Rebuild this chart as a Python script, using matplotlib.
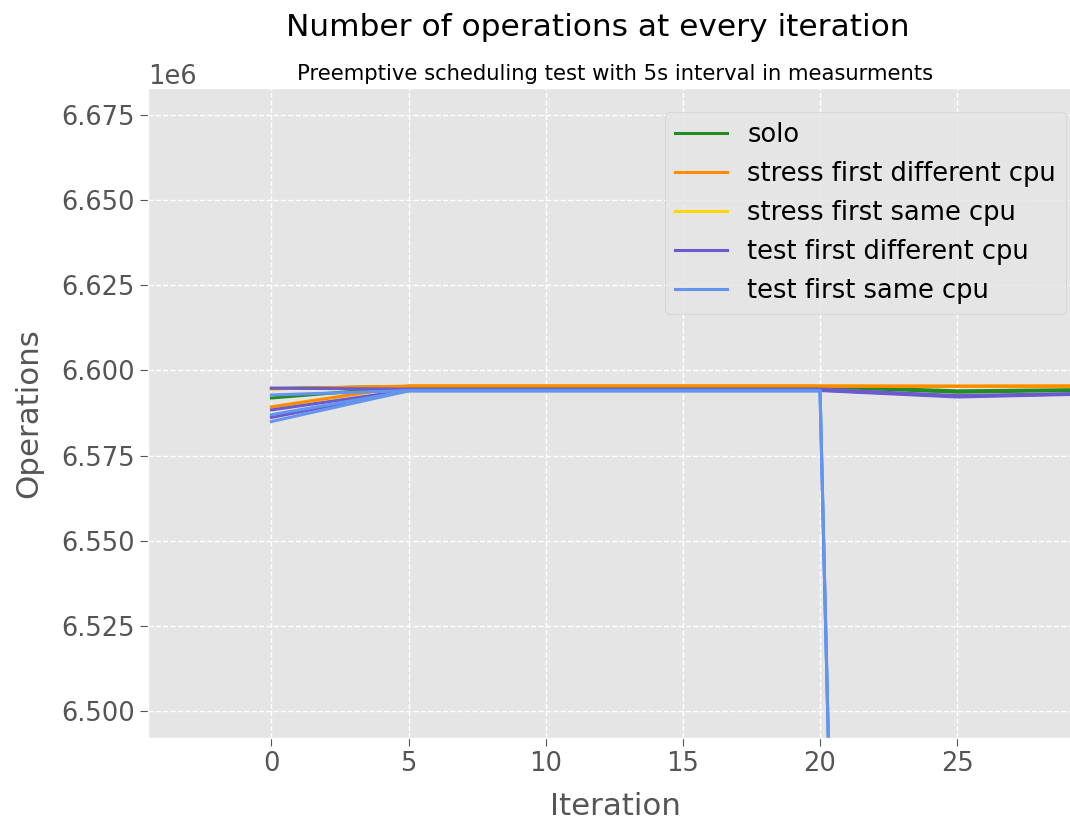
import matplotlib
matplotlib.use("Agg")
import matplotlib.pyplot as plt

# iteration step is 5 (measurements every 5s)
step = 5

names = ["solo", "stress first different cpu", "stress first same cpu",
         "test first different cpu", "test first same cpu"]
colors = ["forestgreen", "darkorange", "gold", "slateblue", "cornflowerblue"]

# several runs per configuration, operations per iteration
solo = [
    [6.5919e6, 6.5952e6, 6.5952e6, 6.5952e6, 6.5952e6, 6.5936e6, 6.5942e6],
    [6.5947e6, 6.5953e6, 6.5953e6, 6.5953e6, 6.5953e6, 6.5940e6, 6.5944e6],
]
stress_diff = [
    [6.5893e6, 6.5954e6, 6.5954e6, 6.5954e6, 6.5954e6, 6.5954e6, 6.5954e6],
    [6.5946e6, 6.5954e6, 6.5954e6, 6.5954e6, 6.5954e6, 6.5953e6, 6.5954e6],
]
stress_same = [
    [6.5893e6, 6.5954e6, 6.5954e6, 6.5954e6, 6.5954e6, 6.5953e6, 6.5954e6],
    [6.5946e6, 6.5953e6, 6.5953e6, 6.5953e6, 6.5953e6, 6.5953e6, 6.5954e6],
]
test_diff = [
    [6.5948e6, 6.5945e6, 6.5945e6, 6.5945e6, 6.5945e6, 6.5926e6, 6.5933e6],
    [6.5862e6, 6.5941e6, 6.5941e6, 6.5941e6, 6.5941e6, 6.5922e6, 6.5931e6],
    [6.5884e6, 6.5942e6, 6.5942e6, 6.5942e6, 6.5942e6, 6.5924e6, 6.5932e6],
]
test_same = [
    [6.5850e6, 6.5940e6, 6.5940e6, 6.5940e6, 6.5940e6, 4.90e6, 4.90e6],
    [6.5870e6, 6.5940e6, 6.5940e6, 6.5940e6, 6.5940e6, 4.90e6, 4.90e6],
    [6.5928e6, 6.5941e6, 6.5941e6, 6.5941e6, 6.5941e6, 4.91e6, 4.91e6],
]
series = [solo, stress_diff, stress_same, test_diff, test_same]
# yellow ends up hidden under the others
zorders = [2.2, 2.3, 2.0, 2.4, 2.5]

plt.style.use("ggplot")
plt.rcParams["font.size"] = 18.5
plt.rcParams["lines.linewidth"] = 2.2

fig = plt.figure(figsize=(10.7, 8.27), dpi=100)
ax = fig.add_axes([148 / 1070, 89 / 827, 934 / 1070, 650 / 827])

for runs, name, c, z in zip(series, names, colors, zorders):
    for i, run in enumerate(runs):
        xs = [k * step for k in range(len(run))]
        ax.plot(xs, run, color=c, zorder=z, label=name if i == 0 else None)

ax.grid(True, color="white", linestyle="--", linewidth=1.0)
ax.tick_params(length=6)
ax.set_xlim(-4.5, 29.55)
ax.set_ylim(6.4921e6, 6.6829e6)
ax.set_xlabel("Iteration", labelpad=11)
ax.set_ylabel("Operations", labelpad=13)
ax.set_title("Preemptive scheduling test with 5s interval in measurments", fontsize=15.2, pad=6)
fig.text(598 / 1070, 1 - 28 / 827, "Number of operations at every iteration",
         ha="center", va="center", fontsize=22.5)
ax.legend(loc="upper right", bbox_to_anchor=(0.9968, 0.983))

fig.savefig("out.png", dpi=100)
